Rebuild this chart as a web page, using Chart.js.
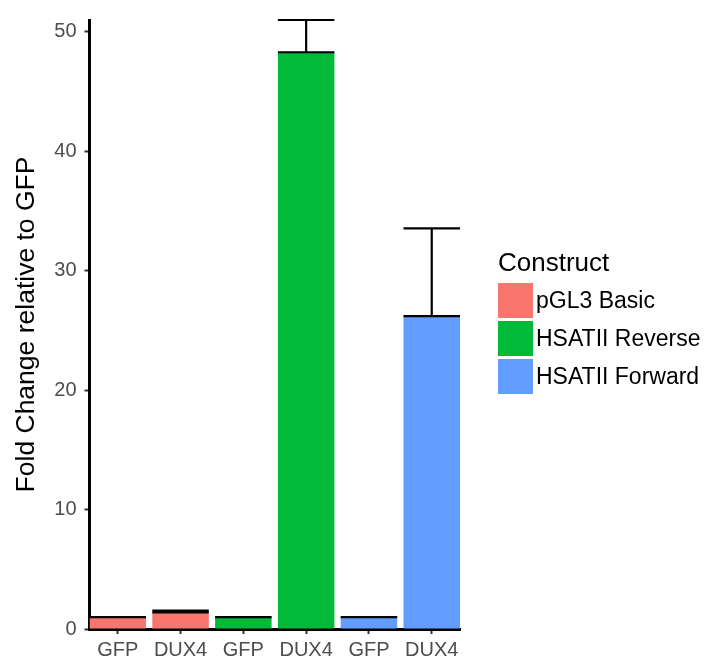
<!DOCTYPE html>
<html>
<head>
<meta charset="utf-8">
<script src="https://cdn.jsdelivr.net/npm/chart.js@4/dist/chart.umd.min.js"></script>
<style>
  html, body { margin: 0; padding: 0; background: #ffffff; }
  #wrap { position: relative; width: 719px; height: 658px; overflow: hidden; }
  #c { position: absolute; left: 0; top: 0; }
  .lg { position: absolute; font-family: "Liberation Sans", Arial, Helvetica, sans-serif; color: #000; white-space: nowrap; }
  #lgTitle { left: 498px; top: 247px; font-size: 26px; line-height: 30px; }
  .sw { position: absolute; left: 498px; width: 35px; height: 35px; }
  .lab { position: absolute; left: 536px; height: 35px; line-height: 35px; font-size: 23px; }
</style>
</head>
<body>
<div id="wrap">
  <canvas id="c" width="719" height="658"></canvas>
  <div id="legend"></div>
</div>
<script>
// ---- data ----
const categories   = ['GFP', 'DUX4', 'GFP', 'DUX4', 'GFP', 'DUX4'];
const constructs   = ['pGL3 Basic', 'pGL3 Basic', 'HSATII Reverse', 'HSATII Reverse', 'HSATII Forward', 'HSATII Forward'];
const foldChange   = [1.0, 1.38, 1.0, 48.3, 1.0, 26.2];
const errorUpper   = [1.0, 1.55, 1.0, 51.0, 1.0, 33.55];
const legendNames  = ['pGL3 Basic', 'HSATII Reverse', 'HSATII Forward'];
const legendColors = ['#F8766D', '#00BA38', '#619CFF'];
const yTicks       = [0, 10, 20, 30, 40, 50];
const yTitle       = 'Fold Change relative to GFP';
const legendTitle  = 'Construct';

const colorOf = name => legendColors[legendNames.indexOf(name)];
const FONT = '"Liberation Sans", Arial, Helvetica, sans-serif';

// legend (HTML text)
(function buildLegend() {
  const lg = document.getElementById('legend');
  const t = document.createElement('div');
  t.className = 'lg'; t.id = 'lgTitle'; t.textContent = legendTitle;
  lg.appendChild(t);
  legendNames.forEach((n, i) => {
    const top = 283 + i * 38;
    const sw = document.createElement('div');
    sw.className = 'sw'; sw.style.top = top + 'px'; sw.style.background = legendColors[i];
    lg.appendChild(sw);
    const lab = document.createElement('div');
    lab.className = 'lg lab'; lab.style.top = top + 'px'; lab.textContent = n;
    lg.appendChild(lab);
  });
})();

const errorBars = {
  id: 'errorBars',
  afterDatasetsDraw(chart) {
    const ctx = chart.ctx;
    const xs = chart.scales.x, ys = chart.scales.y;
    const meta = chart.getDatasetMeta(0);
    ctx.save();
    ctx.strokeStyle = '#000000';
    ctx.lineWidth = 2.2;
    ctx.lineCap = 'butt';
    foldChange.forEach((v, i) => {
      const x = xs.getPixelForValue(i + 1);
      const half = meta.data[i].width / 2;
      const y0 = ys.getPixelForValue(v);
      const y1 = ys.getPixelForValue(errorUpper[i]);
      ctx.beginPath();
      ctx.moveTo(x, y0); ctx.lineTo(x, y1);
      ctx.moveTo(x - half, y0); ctx.lineTo(x + half, y0);
      ctx.moveTo(x - half, y1); ctx.lineTo(x + half, y1);
      ctx.stroke();
    });
    ctx.restore();
  }
};

new Chart(document.getElementById('c'), {
  type: 'bar',
  data: {
    datasets: [{
      data: foldChange.map((v, i) => ({ x: i + 1, y: v })),
      backgroundColor: constructs.map(colorOf),
      borderWidth: 0,
      categoryPercentage: 0.9,
      barPercentage: 1.0
    }]
  },
  options: {
    responsive: false,
    devicePixelRatio: 1,
    animation: false,
    layout: { padding: { top: 17.5, right: 259, left: 0, bottom: 0 } },
    plugins: { legend: { display: false }, tooltip: { enabled: false } },
    scales: {
      x: {
        type: 'linear',
        offset: false,
        min: 0.55, max: 6.45,
        z: 1,
        afterBuildTicks: s => { s.ticks = categories.map((c, i) => ({ value: i + 1 })); },
        afterFit: s => { s.height = 29; },
        ticks: {
          callback: (v) => categories[Math.round(v) - 1],
          font: { family: FONT, size: 20 },
          color: '#4D4D4D',
          padding: 4,
          maxRotation: 0, autoSkip: false
        },
        grid: { display: true, offset: false, drawOnChartArea: false, drawTicks: true, tickLength: 5, tickColor: '#333333', tickWidth: 2 },
        border: { display: true, color: '#000000', width: 3 }
      },
      y: {
        min: 0, max: 51.0,
        z: 1,
        afterBuildTicks: s => { s.ticks = yTicks.map(v => ({ value: v })); },
        afterFit: s => { s.width = 89.5; },
        ticks: {
          font: { family: FONT, size: 20 },
          color: '#4D4D4D',
          padding: 8
        },
        grid: { display: true, drawOnChartArea: false, drawTicks: true, tickLength: 5, tickColor: '#333333', tickWidth: 2 },
        border: { display: true, color: '#000000', width: 3 },
        title: {
          display: true, text: yTitle, color: '#000000',
          font: { family: FONT, size: 26.5 },
          padding: { top: 11, bottom: 0 }
        }
      }
    }
  },
  plugins: [errorBars]
});
</script>
</body>
</html>
